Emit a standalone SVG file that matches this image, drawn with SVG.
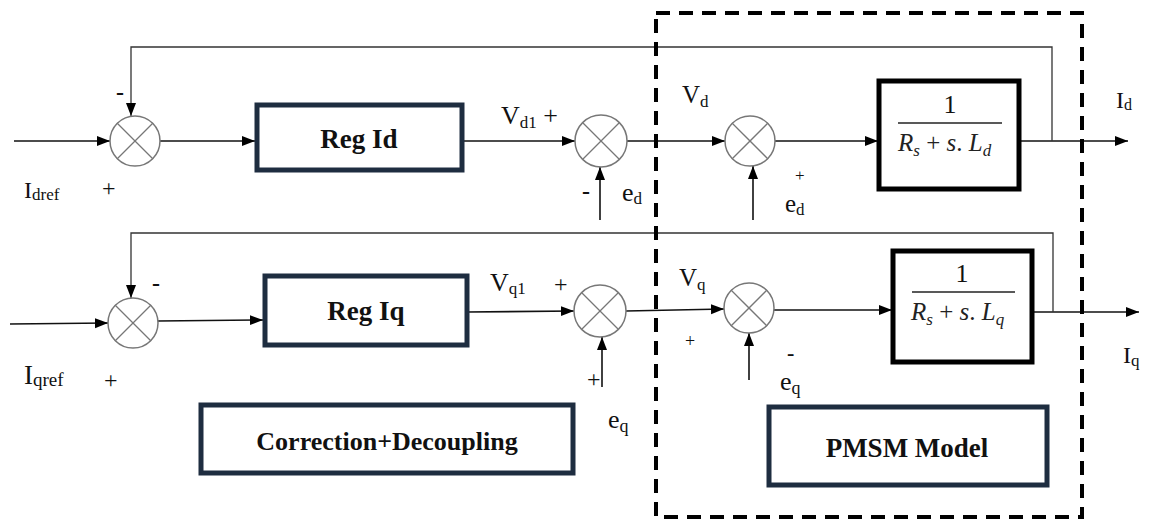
<svg xmlns="http://www.w3.org/2000/svg" width="1152" height="519" viewBox="0 0 1152 519">
<style>
.ln{stroke:#111;stroke-width:1.6;fill:none}
.fb{stroke:#333;stroke-width:1.3;fill:none}
.sum circle{fill:#fff;stroke:#777;stroke-width:1.5}
.sum line{stroke:#777;stroke-width:1.3}
.reg{fill:#fff;stroke:#1e2d40;stroke-width:5}
.tf{fill:#fff;stroke:#000;stroke-width:5}
.lbl{font-family:"Liberation Serif",serif;fill:#111}
.bold{font-family:"Liberation Serif",serif;font-weight:bold;fill:#111;text-anchor:middle}
.math{font-family:"Liberation Serif",serif;fill:#222;font-style:italic}
</style>
<defs>
<marker id="ah" markerUnits="userSpaceOnUse" markerWidth="14" markerHeight="12" refX="13" refY="5" orient="auto">
<path d="M0,0 L13,5 L0,10 z" fill="#000"/>
</marker>
</defs>
<rect width="1152" height="519" fill="#fff"/>

<g id="connectors">
<line class="ln" x1="14" y1="141" x2="110" y2="141" marker-end="url(#ah)"/>
<line class="ln" x1="160" y1="141" x2="255" y2="141" marker-end="url(#ah)"/>
<line class="ln" x1="462" y1="141" x2="575" y2="141" marker-end="url(#ah)"/>
<line class="ln" x1="627" y1="141" x2="725" y2="141" marker-end="url(#ah)"/>
<line class="ln" x1="775" y1="141" x2="878" y2="141" marker-end="url(#ah)"/>
<line class="ln" x1="1020" y1="141" x2="1128" y2="141" marker-end="url(#ah)"/>
<polyline class="fb" points="1052,141 1052,47 131,47 131,116" marker-end="url(#ah)"/>
<line class="ln" x1="600" y1="220" x2="600" y2="167" marker-end="url(#ah)"/>
<line class="ln" x1="753" y1="220" x2="753" y2="166" marker-end="url(#ah)"/>
<line class="ln" x1="10" y1="324" x2="108" y2="323" marker-end="url(#ah)"/>
<line class="ln" x1="158" y1="321" x2="263" y2="320" marker-end="url(#ah)"/>
<line class="ln" x1="467" y1="312" x2="574" y2="311" marker-end="url(#ah)"/>
<line class="ln" x1="626" y1="311" x2="724" y2="309" marker-end="url(#ah)"/>
<line class="ln" x1="774" y1="310" x2="892" y2="310" marker-end="url(#ah)"/>
<line class="ln" x1="1033" y1="312" x2="1139" y2="312" marker-end="url(#ah)"/>
<polyline class="fb" points="1053,312 1053,233 131,233 131,298" marker-end="url(#ah)"/>
<line class="ln" x1="602" y1="387" x2="602" y2="337" marker-end="url(#ah)"/>
<line class="ln" x1="749" y1="380" x2="749" y2="333" marker-end="url(#ah)"/>
</g>

<g id="pmsm-boundary">
<rect x="656" y="13" width="426" height="504" fill="none" stroke="#000" stroke-width="4" stroke-dasharray="14 9"/>
</g>

<g id="sum1" class="sum"><circle cx="135" cy="141" r="25"/><line x1="117" y1="123" x2="153" y2="159"/><line x1="153" y1="123" x2="117" y2="159"/></g>
<g id="sum2" class="sum"><circle cx="601" cy="141" r="26"/><line x1="583" y1="123" x2="619" y2="159"/><line x1="619" y1="123" x2="583" y2="159"/></g>
<g id="sum3" class="sum"><circle cx="750" cy="141" r="25"/><line x1="732" y1="123" x2="768" y2="159"/><line x1="768" y1="123" x2="732" y2="159"/></g>
<g id="sum4" class="sum"><circle cx="133" cy="323" r="25"/><line x1="115" y1="305" x2="151" y2="341"/><line x1="151" y1="305" x2="115" y2="341"/></g>
<g id="sum5" class="sum"><circle cx="600" cy="311" r="26"/><line x1="582" y1="293" x2="618" y2="329"/><line x1="618" y1="293" x2="582" y2="329"/></g>
<g id="sum6" class="sum"><circle cx="749" cy="308" r="25"/><line x1="731" y1="290" x2="767" y2="326"/><line x1="767" y1="290" x2="731" y2="326"/></g>

<g id="reg-id"><rect class="reg" x="257" y="105" width="205" height="65"/><text class="bold" x="359" y="148" font-size="27">Reg Id</text></g>
<g id="reg-iq"><rect class="reg" x="265" y="276" width="202" height="69"/><text class="bold" x="366" y="320" font-size="27">Reg Iq</text></g>
<g id="correction"><rect class="reg" x="201" y="405" width="372" height="68" stroke-width="4"/><text class="bold" x="387" y="450" font-size="26">Correction+Decoupling</text></g>
<g id="pmsm-model"><rect class="reg" x="769" y="407" width="278" height="78" stroke-width="4"/><text class="bold" x="907" y="457" font-size="27">PMSM Model</text></g>

<g id="tf-d">
<rect class="tf" x="879" y="81" width="140" height="108"/>
<text class="lbl" x="950" y="113" font-size="26" text-anchor="middle">1</text>
<line x1="898" y1="123" x2="1002" y2="123" stroke="#222" stroke-width="1.3"/>
<text class="math" x="898" y="151" font-size="25">R<tspan font-size="17" dy="5">s</tspan><tspan dy="-5" font-style="normal"> + </tspan>s<tspan font-style="normal">. </tspan>L<tspan font-size="17" dy="5">d</tspan></text>
</g>
<g id="tf-q">
<rect class="tf" x="893" y="251" width="139" height="111"/>
<text class="lbl" x="962" y="282" font-size="26" text-anchor="middle">1</text>
<line x1="912" y1="292" x2="1015" y2="292" stroke="#222" stroke-width="1.3"/>
<text class="math" x="911" y="320" font-size="25">R<tspan font-size="17" dy="5">s</tspan><tspan dy="-5" font-style="normal"> + </tspan>s<tspan font-style="normal">. </tspan>L<tspan font-size="17" dy="5">q</tspan></text>
</g>

<g id="labels" class="lbl">
<text x="116" y="100" font-size="24" font-weight="bold">-</text>
<text x="102" y="196" font-size="24">+</text>
<text x="24" y="198" font-size="24">I<tspan font-size="17" dy="2">dref</tspan></text>
<text x="501" y="124" font-size="26">V<tspan font-size="17" dy="4">d1</tspan><tspan dy="-4"> +</tspan></text>
<text x="582" y="199" font-size="24" font-weight="bold">-</text>
<text x="622" y="201" font-size="26">e<tspan font-size="17" dy="3">d</tspan></text>
<text x="682" y="103" font-size="25">V<tspan font-size="17" dy="4">d</tspan></text>
<text x="795" y="181" font-size="17">+</text>
<text x="785" y="212" font-size="25">e<tspan font-size="17" dy="3">d</tspan></text>
<text x="1116" y="108" font-size="24">I<tspan font-size="16" dy="2">d</tspan></text>
<text x="152" y="291" font-size="24" font-weight="bold">-</text>
<text x="104" y="388" font-size="24">+</text>
<text x="24" y="384" font-size="27">I<tspan font-size="19" dy="2">qref</tspan></text>
<text x="490" y="291" font-size="26">V<tspan font-size="17" dy="3">q1</tspan></text>
<text x="554" y="292" font-size="24">+</text>
<text x="587" y="387" font-size="24">+</text>
<text x="679" y="286" font-size="25">V<tspan font-size="17" dy="4">q</tspan></text>
<text x="685" y="347" font-size="18">+</text>
<text x="787" y="360" font-size="22" font-weight="bold">-</text>
<text x="780" y="390" font-size="26">e<tspan font-size="18" dy="4">q</tspan></text>
<text x="1123" y="363" font-size="24">I<tspan font-size="17" dy="3">q</tspan></text>
<text x="608" y="428" font-size="26">e<tspan font-size="18" dy="4">q</tspan></text>
</g>
</svg>
